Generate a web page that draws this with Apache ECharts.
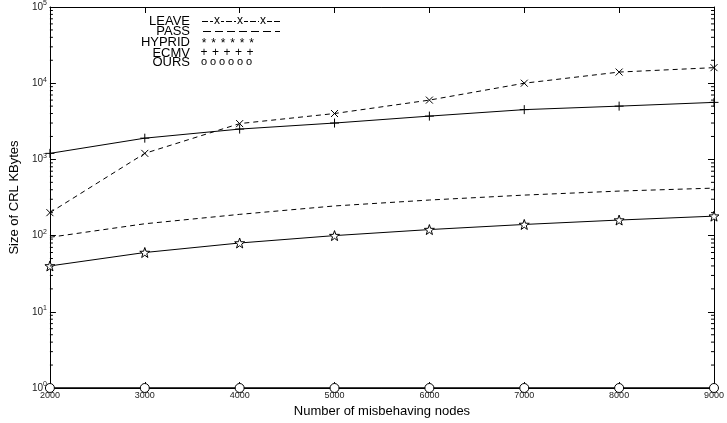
<!DOCTYPE html>
<html><head><meta charset="utf-8">
<script src="https://cdn.jsdelivr.net/npm/echarts@6/dist/echarts.min.js"></script>
<style>html,body{margin:0;padding:0;background:#fff}#c{width:727px;height:423px}</style>
</head><body><div id="c"></div>
<script>
const nodes = [2000, 3000, 4000, 5000, 6000, 7000, 8000, 9000];
const leave = [200, 1200, 2950, 4000, 6000, 10000, 14000, 16000];
const pass = [95, 143, 190, 245, 293, 340, 384, 420];
const hyprid = [40, 60, 80, 100, 120, 140, 160, 180];
const ecmv = [1200, 1900, 2500, 3000, 3700, 4500, 5000, 5600];
const ours = [1, 1, 1, 1, 1, 1, 1, 1];
const legendNames = ['LEAVE', 'PASS', 'HYPRID', 'ECMV', 'OURS'];

const minors = [];
for (let d = 1; d < 100000; d *= 10) for (let k = 2; k <= 9; k++) minors.push(k * d);

const pair = arr => nodes.map((x, i) => [x, arr[i]]);
const F = 'Liberation Sans, Arial, sans-serif';
const starPath = 'path://M10,0L12.35,6.76L19.51,6.91L13.8,11.24L15.88,18.09L10,14L4.12,18.09L6.2,11.24L0.49,6.91L7.65,6.76Z';
const xPath = 'path://M0,0L10,10M10,0L0,10';
const plusPath = 'path://M5,0L5,10M0,5L10,5';

function yAx(pos, labels) {
  return {
    type: 'log', logBase: 10, min: 1, max: 100000, position: pos,
    axisLine: { show: true, lineStyle: { color: '#000', width: 1 } },
    splitLine: { show: false },
    axisTick: { show: true, inside: true, length: 6, lineStyle: { color: '#000' } },
    axisLabel: labels ? {
      show: true, margin: 3, fontFamily: F, color: '#222',
      formatter: v => '{b|10}{s|' + Math.round(Math.log10(v)) + '}',
      rich: { b: { fontSize: 10, fontFamily: F, color: '#222' }, s: { fontSize: 7, fontFamily: F, color: '#222', padding: [0, 0, 7, 0] } }
    } : { show: false }
  };
}

// legend drawing (layout only)
const LY = [21, 31, 42, 53, 62];
const g = [];
legendNames.forEach((n, i) => g.push({ type: 'text', x: 190, y: LY[i],
  style: { text: n, fontFamily: F, fontSize: 13, fill: '#000', align: 'right', verticalAlign: 'middle' } }));
g.push({ type: 'line', shape: { x1: 202, y1: LY[0] + 0.5, x2: 280, y2: LY[0] + 0.5 }, style: { stroke: '#000', lineWidth: 1, lineDash: [6, 2] } });
[217, 240, 263].forEach(x => g.push({ type: 'text', x: x, y: LY[0], z: 10,
  style: { text: 'x', fontFamily: F, fontSize: 12, fill: '#000', align: 'center', verticalAlign: 'middle', backgroundColor: '#fff', padding: [0, 1] } }));
g.push({ type: 'line', shape: { x1: 203, y1: LY[1] + 0.5, x2: 280, y2: LY[1] + 0.5 }, style: { stroke: '#000', lineWidth: 1, lineDash: [8, 4] } });
[204, 213.5, 223, 232.5, 242, 251.5].forEach(x => g.push({ type: 'text', x: x, y: LY[2] + 2,
  style: { text: '*', fontFamily: F, fontSize: 12, fill: '#000', align: 'center', verticalAlign: 'middle' } }));
[204, 215.5, 227, 238.5, 250].forEach(x => g.push({ type: 'text', x: x, y: LY[3],
  style: { text: '+', fontFamily: F, fontSize: 12, fill: '#000', align: 'center', verticalAlign: 'middle' } }));
[204, 213, 222, 231, 240, 249].forEach(x => g.push({ type: 'text', x: x, y: LY[4],
  style: { text: 'o', fontFamily: F, fontSize: 11, fill: '#000', align: 'center', verticalAlign: 'middle' } }));

const chart = echarts.init(document.getElementById('c'));
chart.setOption({
  animation: false,
  backgroundColor: '#fff',
  grid: { left: 46, right: 11, top: 5, bottom: 35 },
  xAxis: [{
    type: 'value', min: 2000, max: 9000, interval: 1000, position: 'bottom',
    name: 'Number of misbehaving nodes', nameLocation: 'middle', nameGap: 16,
    nameTextStyle: { fontFamily: F, fontSize: 13, color: '#000' },
    axisLine: { show: true, onZero: false, lineStyle: { color: '#000', width: 1 } },
    axisTick: { inside: true, length: 6, lineStyle: { color: '#000' } },
    axisLabel: { fontFamily: F, fontSize: 9, color: '#222', margin: 3, formatter: v => String(v) },
    splitLine: { show: false }
  }, {
    type: 'value', min: 2000, max: 9000, interval: 1000, position: 'top',
    axisLine: { show: true, onZero: false, lineStyle: { color: '#000', width: 1 } },
    axisTick: { inside: true, length: 6, lineStyle: { color: '#000' } },
    axisLabel: { show: false }, splitLine: { show: false }
  }],
  yAxis: [
    Object.assign(yAx('left', true), {
      name: 'Size of CRL KBytes', nameLocation: 'middle', nameGap: 28, nameRotate: 90,
      nameTextStyle: { fontFamily: F, fontSize: 13, color: '#000' }
    }),
    yAx('right', false)
  ],
  series: [
    { name: 'minorTicks', type: 'custom', data: minors.map(v => [2000, v]), silent: true, z: 5,
      renderItem: (params, api) => {
        const v = api.value(1);
        const l = api.coord([2000, v]);
        const r = api.coord([9000, v]);
        return { type: 'group', children: [
          { type: 'line', shape: { x1: l[0], y1: l[1], x2: l[0] + 3, y2: l[1] }, style: { stroke: '#000', lineWidth: 1 } },
          { type: 'line', shape: { x1: r[0], y1: r[1], x2: r[0] - 3, y2: r[1] }, style: { stroke: '#000', lineWidth: 1 } }
        ] };
      } },
    { name: 'LEAVE', type: 'line', data: pair(leave), symbol: xPath, symbolSize: 7,
      lineStyle: { color: '#000', width: 1, type: [5, 4] },
      itemStyle: { color: 'none', borderColor: '#000', borderWidth: 1 } },
    { name: 'PASS', type: 'line', data: pair(pass), showSymbol: false, symbol: 'none',
      lineStyle: { color: '#000', width: 1, type: [5, 4] } },
    { name: 'HYPRID', type: 'line', data: pair(hyprid), symbol: starPath, symbolSize: 10,
      lineStyle: { color: '#000', width: 1 },
      itemStyle: { color: '#fff', borderColor: '#000', borderWidth: 1 } },
    { name: 'ECMV', type: 'line', data: pair(ecmv), symbol: plusPath, symbolSize: 9,
      lineStyle: { color: '#000', width: 1 },
      itemStyle: { color: 'none', borderColor: '#000', borderWidth: 1 } },
    { name: 'OURS', type: 'line', data: pair(ours), symbol: 'circle', symbolSize: 9,
      lineStyle: { color: '#000', width: 1.5 },
      itemStyle: { color: '#fff', borderColor: '#000', borderWidth: 1 } }
  ].map(s => Object.assign(s, { clip: false })),
  graphic: g
});
</script></body></html>
